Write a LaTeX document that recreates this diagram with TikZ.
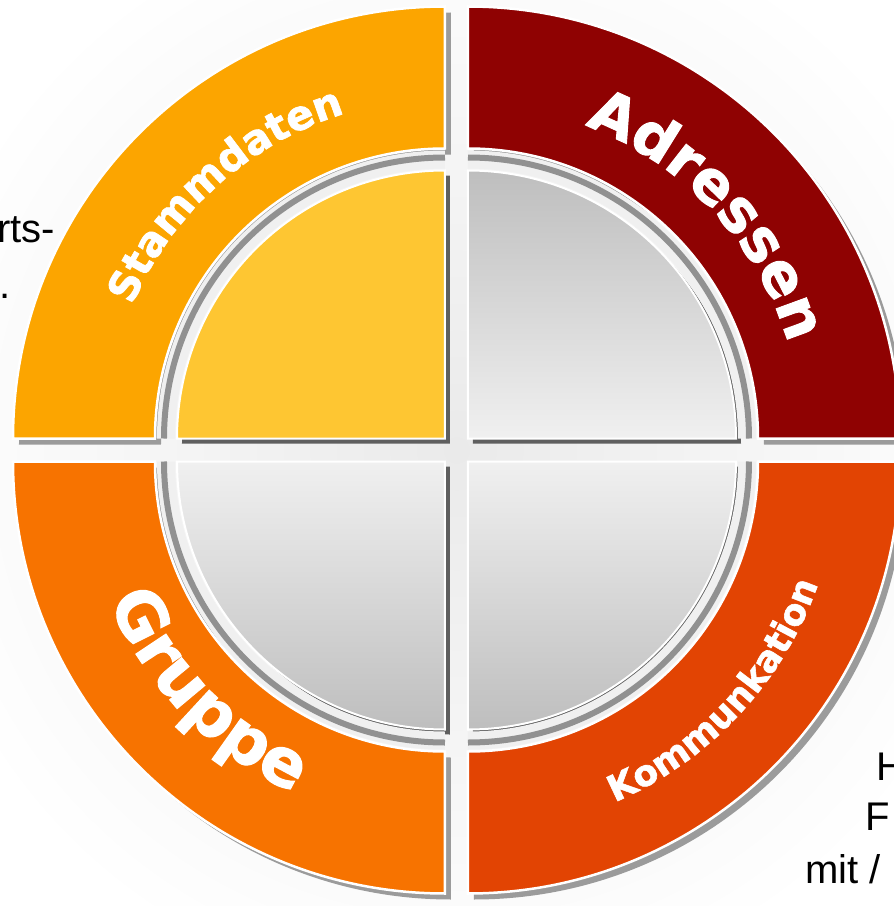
\documentclass[tikz,border=0pt]{standalone}
\usepackage{fontspec}
\setmainfont{Liberation Sans}
\newfontfamily\ringfont{DejaVu Sans Bold}[FakeBold=1.6]
\usetikzlibrary{decorations.text}
\definecolor{cTL}{RGB}{252,165,0}
\definecolor{cTR}{RGB}{143,2,2}
\definecolor{cBL}{RGB}{247,115,0}
\definecolor{cBR}{RGB}{226,68,3}
\definecolor{cYel}{RGB}{254,198,50}
\definecolor{gDark}{RGB}{190,190,190}
\definecolor{gLight}{RGB}{240,240,240}
\definecolor{bgGray}{RGB}{234,234,234}
\definecolor{shGray}{RGB}{155,155,155}
\definecolor{rimGray}{RGB}{145,145,145}
\definecolor{inShadow}{RGB}{95,95,95}

\newcommand\ringquad[4]{%
  \begin{scope}[shift={#1}]
    \fill[shGray, xshift=6pt, yshift=-6pt]
      (#2:290) arc[start angle=#2, delta angle=90, radius=290]
      -- ({#2+90}:432) arc[start angle={#2+90}, delta angle=-90, radius=432] -- cycle;
    \path[fill=#3, draw=white, line width=2.5pt]
      (#2:290) arc[start angle=#2, delta angle=90, radius=290]
      -- ({#2+90}:432) arc[start angle={#2+90}, delta angle=-90, radius=432] -- cycle;
    \fill[inShadow, xshift=5pt, yshift=-5pt]
      (0,0) -- (#2:268) arc[start angle=#2, delta angle=90, radius=268] -- cycle;
    \fill[gLight]
      (#2:270) arc[start angle=#2, delta angle=90, radius=270]
      -- ({#2+90}:288) arc[start angle={#2+90}, delta angle=-90, radius=288] -- cycle;
    \draw[rimGray, line width=6pt] (#2:281) arc[start angle=#2, delta angle=90, radius=281];
    \path[#4, draw=white, line width=2pt]
      (0,0) -- (#2:268) arc[start angle=#2, delta angle=90, radius=268] -- cycle;
  \end{scope}}

\begin{document}
\begin{tikzpicture}[x=1pt, y=1pt,
  frag/.style={inner sep=0pt, text=black},
  ringtext/.style={decorate, decoration={text along path, text align=center, text color=white, text={#1}}}]
  \useasboundingbox (-456.5,-456) rectangle (437.5,450);
  \clip (-456.5,-456) rectangle (437.5,450);
  \fill[white] (-456.5,-456) rectangle (437.5,450);
  \shade[inner color=bgGray, outer color=white] (0,0) circle[radius=560];

  \coordinate (TLc) at (-11.5,11.5);
  \coordinate (TRc) at (11.5,11.5);
  \coordinate (BLc) at (-11.5,-11.5);
  \coordinate (BRc) at (11.5,-11.5);

  \ringquad{(TLc)}{90}{cTL}{fill=cYel}
  \ringquad{(TRc)}{0}{cTR}{top color=gDark, bottom color=gLight}
  \ringquad{(BLc)}{180}{cBL}{top color=gLight, bottom color=gDark}
  \ringquad{(BRc)}{270}{cBR}{top color=gLight, bottom color=gDark}

  \path[ringtext={|\ringfont\fontsize{41}{41}\selectfont|Stammdaten}]
    (TLc) ++(182:340) arc[start angle=182, end angle=82, radius=340];
  \path[ringtext={|\ringfont\fontsize{59}{59}\selectfont|Adressen}]
    (TRc) ++(93:334) arc[start angle=93, end angle=-7, radius=334];
  \path[ringtext={|\ringfont\fontsize{66}{66}\selectfont|Gruppe}]
    (BLc) ++(174:364) arc[start angle=174, end angle=274, radius=364];
  \path[ringtext={|\ringfont\fontsize{36}{36}\selectfont|Kommunkation}]
    (BRc) ++(267:371) arc[start angle=267, end angle=367, radius=371];

  \node[frag, font=\fontsize{40}{48}\selectfont, anchor=base east] (rts) at (-401.5,208) {rts-};
  \node[frag, font=\fontsize{40}{48}\selectfont, anchor=base west] (dot) at (-457.5,152) {.};
  \node[frag, font=\fontsize{40}{48}\selectfont, anchor=base west] (hh) at (419.5,-330) {H};
  \node[frag, font=\fontsize{40}{48}\selectfont, anchor=base west] (ff) at (408.5,-380) {F};
  \node[frag, font=\fontsize{40}{48}\selectfont, anchor=base west] (mit) at (348.5,-433) {mit /};
\end{tikzpicture}
\end{document}
